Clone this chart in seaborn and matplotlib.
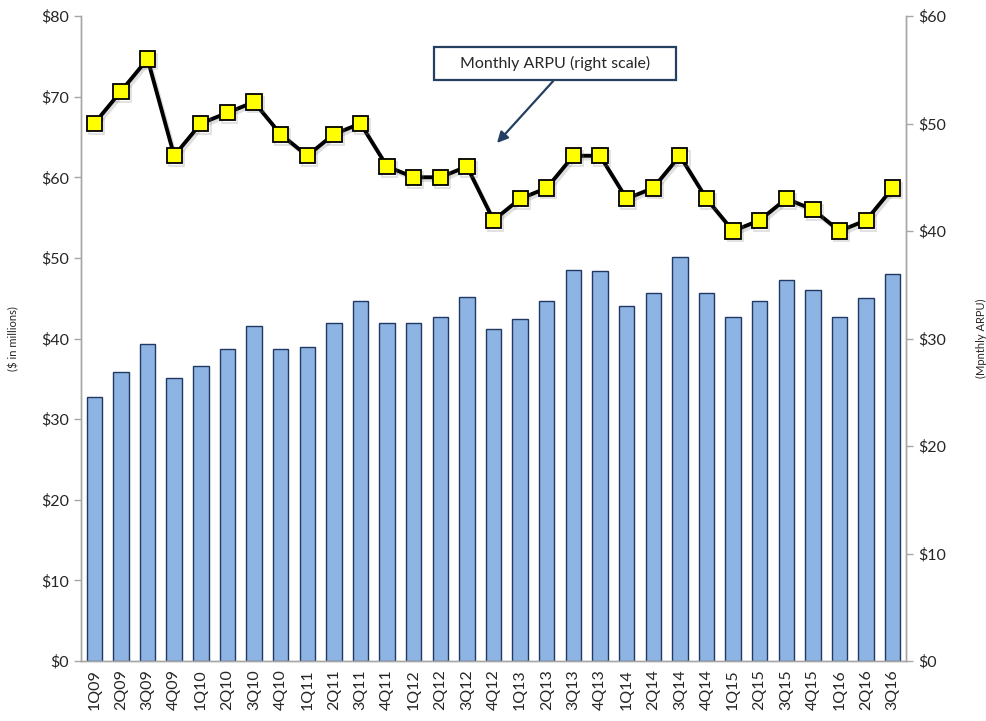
import numpy as np
import pandas as pd
import matplotlib
matplotlib.use("Agg")
import matplotlib.pyplot as plt
import matplotlib.patheffects as pe
from matplotlib.patches import Rectangle
from matplotlib.ticker import FixedLocator, FuncFormatter
import seaborn as sns

quarters = ["1Q09", "2Q09", "3Q09", "4Q09", "1Q10", "2Q10", "3Q10", "4Q10",
            "1Q11", "2Q11", "3Q11", "4Q11", "1Q12", "2Q12", "3Q12", "4Q12",
            "1Q13", "2Q13", "3Q13", "4Q13", "1Q14", "2Q14", "3Q14", "4Q14",
            "1Q15", "2Q15", "3Q15", "4Q15", "1Q16", "2Q16", "3Q16"]
revenue = [32.8, 35.8, 39.3, 35.1, 36.6, 38.7, 41.5, 38.7,
           38.9, 41.9, 44.7, 41.9, 41.9, 42.7, 45.1, 41.2,
           42.4, 44.6, 48.5, 48.4, 44.0, 45.7, 50.1, 45.7,
           42.7, 44.6, 47.3, 46.0, 42.7, 45.0, 48.0]
arpu = [50, 53, 56, 47, 50, 51, 52, 49,
        47, 49, 50, 46, 45, 45, 46, 41,
        43, 44, 47, 47, 43, 44, 47, 43,
        40, 41, 43, 42, 40, 41, 44]
left_ticks = [0, 10, 20, 30, 40, 50, 60, 70, 80]
right_ticks = [0, 10, 20, 30, 40, 50, 60]

sns.set_style("white")
plt.rcParams["font.family"] = ["Lato", "DejaVu Sans"]

df = pd.DataFrame({"quarter": quarters, "revenue": revenue, "arpu": arpu})

fig = plt.figure(figsize=(9.87, 7.21), dpi=100)
ax = fig.add_axes([0.0821, 0.0832, 0.8359, 0.8946])

sns.barplot(data=df, x="quarter", y="revenue", ax=ax, color="#8EB4E3",
            saturation=1, width=0.58, edgecolor="#1F3864", linewidth=1.0)

ax.set_xlim(-0.5, len(quarters) - 0.5)
ax.set_ylim(0, 80)
ax.yaxis.set_major_locator(FixedLocator(left_ticks))
ax.yaxis.set_major_formatter(FuncFormatter(lambda v, p: f"${v:.0f}"))
ax.set_xlabel("")
ax.set_ylabel("($ in millions)", fontsize=8, labelpad=16)

# category boundary ticks on the x axis
ax.xaxis.set_minor_locator(FixedLocator(np.arange(-0.5, len(quarters), 1.0)))
ax.tick_params(axis="x", which="major", length=0, labelsize=11.5, rotation=90, pad=6)
ax.tick_params(axis="x", which="minor", length=5, color="#A6A6A6", width=1, direction="out")
ax.tick_params(axis="y", which="major", length=5, color="#A6A6A6", width=1,
               direction="out", labelsize=11.5, left=True)

ax2 = ax.twinx()
sns.lineplot(x=np.arange(len(quarters)), y=arpu, ax=ax2, color="black",
             linewidth=2.8, marker="s", markersize=11,
             markerfacecolor="#FFFF00", markeredgecolor="black",
             markeredgewidth=1.3, zorder=5,
             path_effects=[pe.SimpleLineShadow(offset=(1.5, -2), shadow_color="gray", alpha=0.25),
                           pe.Normal()])
ax2.set_ylim(0, 60)
ax2.yaxis.set_major_locator(FixedLocator(right_ticks))
ax2.yaxis.set_major_formatter(FuncFormatter(lambda v, p: f"${v:.0f}"))
ax2.set_ylabel("(Mpnthly ARPU)", fontsize=8, labelpad=22)
ax2.tick_params(axis="y", which="major", length=5, color="#A6A6A6", width=1,
                direction="out", labelsize=11.5, right=True)
ax2.set_xlim(-0.5, len(quarters) - 0.5)

for a in (ax, ax2):
    for side in ("left", "right", "bottom"):
        a.spines[side].set_visible(True)
        a.spines[side].set_color("#A6A6A6")
        a.spines[side].set_linewidth(1)
    a.spines["top"].set_visible(False)

# callout box with arrow pointing at the ARPU line
ax2.add_patch(Rectangle((12.77, 54.05), 9.09, 3.07, facecolor="white",
                        edgecolor="#243F60", linewidth=1.6, zorder=6))
ax2.text(17.31, 55.58, "Monthly ARPU (right scale)", ha="center", va="center",
         fontsize=11.5, zorder=7)
ax2.annotate("", xy=(15.13, 48.19), xytext=(17.24, 53.95),
             arrowprops=dict(arrowstyle="-|>", color="#243F60", lw=1.6,
                             mutation_scale=16, shrinkA=0, shrinkB=0))

fig.savefig("out.png", dpi=100)
